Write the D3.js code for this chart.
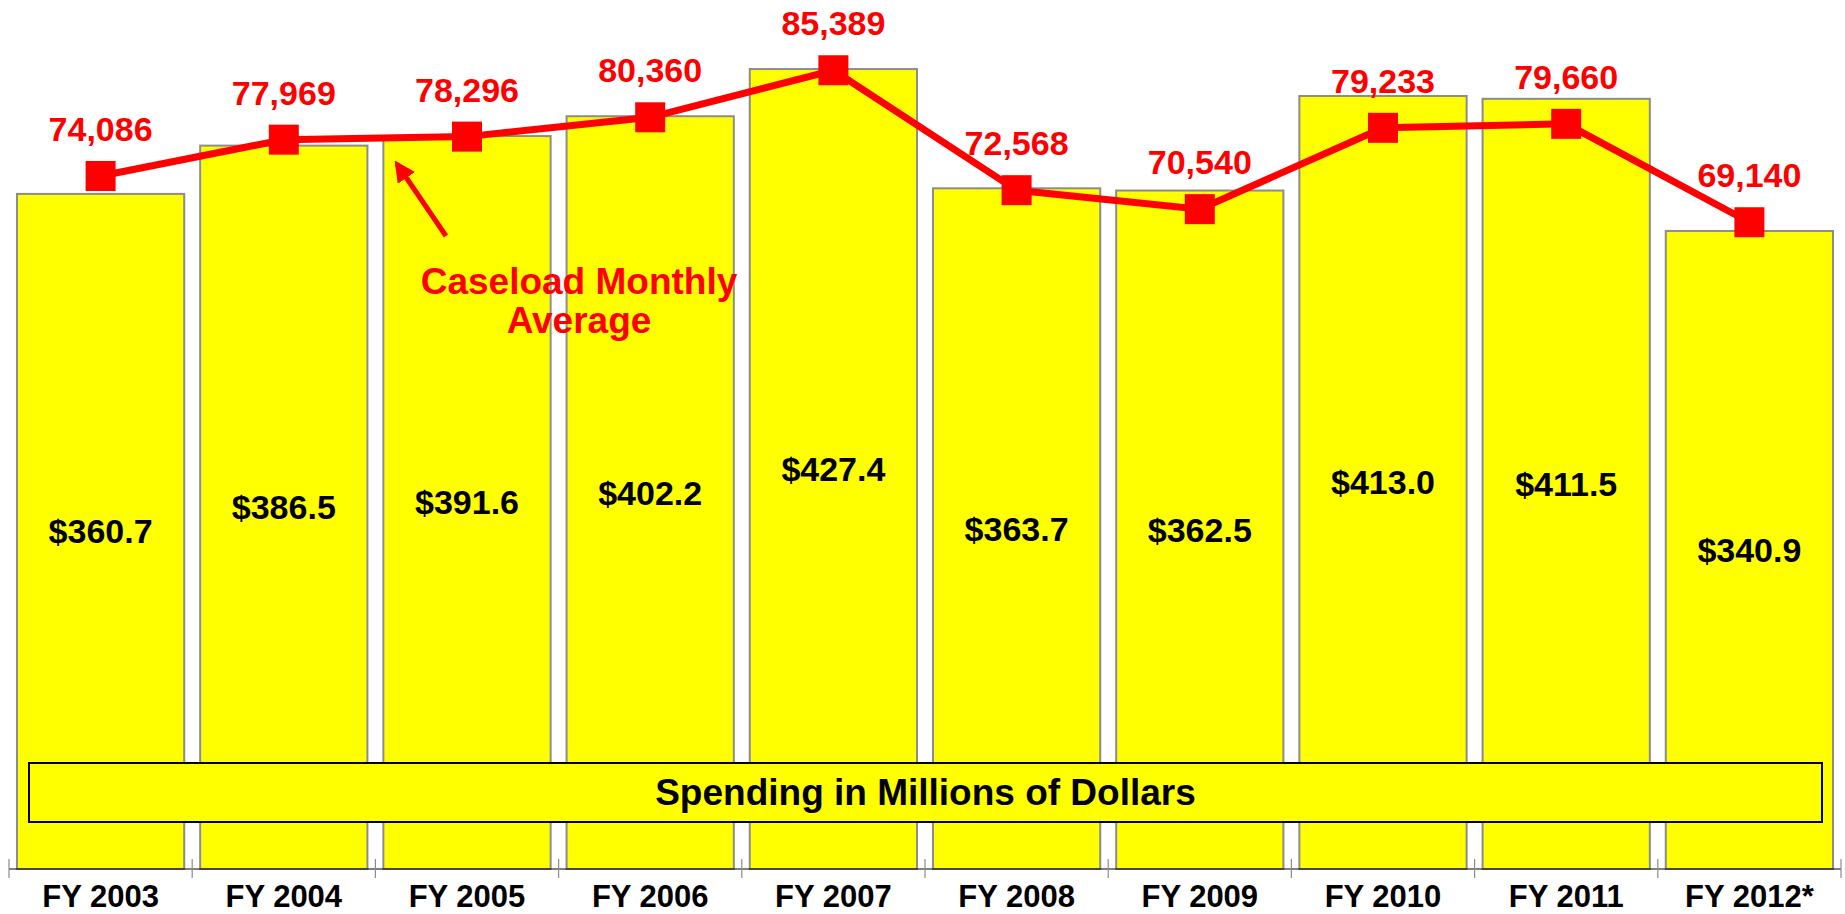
<!DOCTYPE html>
<html>
<head>
<meta charset="utf-8">
<script src="https://cdn.jsdelivr.net/npm/d3@7"></script>
<style>
  html, body { margin: 0; padding: 0; background: #fff; }
  svg { display: block; }
  text { font-family: "Liberation Sans", Arial, sans-serif; font-weight: bold; }
</style>
</head>
<body>
<svg id="chart" width="1845" height="914"></svg>
<script>
const categories = ["FY 2003","FY 2004","FY 2005","FY 2006","FY 2007","FY 2008","FY 2009","FY 2010","FY 2011","FY 2012*"];
const spending = [360.7, 386.5, 391.6, 402.2, 427.4, 363.7, 362.5, 413.0, 411.5, 340.9];
const caseload = [74086, 77969, 78296, 80360, 85389, 72568, 70540, 79233, 79660, 69140];
const legendLabel = "Spending in Millions of Dollars";
const annotationLines = ["Caseload Monthly", "Average"];

const svg = d3.select("#chart");
const left = 9, right = 1841, baseY = 869, topY = 0;

const x = d3.scaleBand().domain(categories).range([left, right]).paddingInner(0.087).paddingOuter(0.0435);
const xc = d => x(d) + x.bandwidth() / 2;
const y1 = d3.scaleLinear().domain([0, 464.3]).range([baseY, topY]);
const y2 = d3.scaleLinear().domain([0, 92900]).range([baseY, topY]);

// bars
svg.append("g").selectAll("rect").data(categories).join("rect")
  .attr("x", d => x(d))
  .attr("y", (d, i) => y1(spending[i]))
  .attr("width", x.bandwidth())
  .attr("height", (d, i) => baseY - y1(spending[i]))
  .attr("fill", "#FFFF00")
  .attr("stroke", "#8c8c8c")
  .attr("stroke-width", 2);

// bar value labels
svg.append("g").selectAll("text").data(categories).join("text")
  .attr("x", d => xc(d))
  .attr("y", (d, i) => (y1(spending[i]) + baseY) / 2)
  .attr("dy", "0.35em")
  .attr("text-anchor", "middle")
  .attr("font-size", 34)
  .attr("fill", "#000")
  .text((d, i) => "$" + d3.format(".1f")(spending[i]));

// legend box
const lg = svg.append("g");
lg.append("rect").attr("x", 29).attr("y", 763).attr("width", 1793).attr("height", 59)
  .attr("fill", "#FFFF00").attr("stroke", "#000").attr("stroke-width", 2);
lg.append("text").attr("x", 29 + 1793 / 2).attr("y", 805).attr("text-anchor", "middle")
  .attr("font-size", 37).attr("fill", "#000").text(legendLabel);

// x axis
const axisScale = d3.scalePoint().domain(d3.range(categories.length + 1)).range([left, right]);
const ax = svg.append("g");
ax.append("line").attr("x1", left).attr("x2", right).attr("y1", baseY).attr("y2", baseY)
  .attr("stroke", "#000").attr("stroke-width", 1.2);
ax.selectAll("line.tick").data(d3.range(categories.length + 1)).join("line")
  .attr("class", "tick")
  .attr("x1", d => axisScale(d)).attr("x2", d => axisScale(d))
  .attr("y1", baseY - 10).attr("y2", baseY + 9)
  .attr("stroke", "#8c8c8c").attr("stroke-width", 1.2);
ax.selectAll("text").data(categories).join("text")
  .attr("x", d => xc(d)).attr("y", 907)
  .attr("text-anchor", "middle").attr("font-size", 31).attr("fill", "#000")
  .text(d => d);

// caseload line
const line = d3.line().x((d, i) => xc(categories[i])).y(d => y2(d));
svg.append("path").datum(caseload).attr("d", line)
  .attr("fill", "none").attr("stroke", "#FF0000").attr("stroke-width", 7).attr("stroke-linejoin", "miter");
svg.append("g").selectAll("rect").data(caseload).join("rect")
  .attr("x", (d, i) => xc(categories[i]) - 15)
  .attr("y", d => y2(d) - 15)
  .attr("width", 30).attr("height", 30)
  .attr("fill", "#FF0000");
svg.append("g").selectAll("text").data(caseload).join("text")
  .attr("x", (d, i) => xc(categories[i]))
  .attr("y", d => y2(d) - 35)
  .attr("text-anchor", "middle").attr("font-size", 34).attr("fill", "#FF0000")
  .text(d => d3.format(",")(d));

// annotation
const defs = svg.append("defs");
defs.append("marker").attr("id", "arrow").attr("viewBox", "0 0 10 10")
  .attr("refX", 8).attr("refY", 5).attr("markerWidth", 4.2).attr("markerHeight", 4.2)
  .attr("markerUnits", "strokeWidth").attr("orient", "auto")
  .append("path").attr("d", "M0,0 L10,5 L0,10 Z").attr("fill", "#FF0000");
svg.append("line").attr("x1", 446).attr("y1", 236).attr("x2", 397).attr("y2", 164)
  .attr("stroke", "#FF0000").attr("stroke-width", 5).attr("marker-end", "url(#arrow)");
const ann = svg.append("text").attr("text-anchor", "middle").attr("font-size", 37).attr("fill", "#FF0000");
ann.selectAll("tspan").data(annotationLines).join("tspan")
  .attr("x", 579).attr("y", (d, i) => 294 + i * 39).text(d => d);
</script>
</body>
</html>
